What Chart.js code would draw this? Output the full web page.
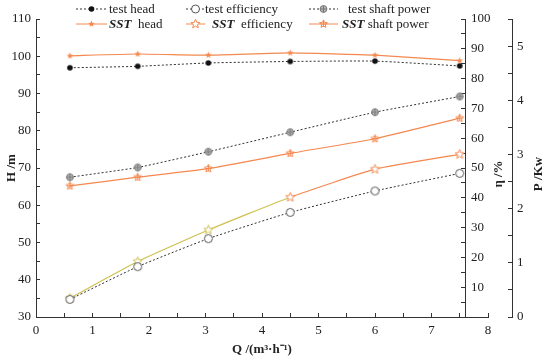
<!DOCTYPE html>
<html>
<head>
<meta charset="utf-8">
<script src="https://cdn.jsdelivr.net/npm/chart.js@4/dist/chart.umd.min.js"></script>
<style>
html, body { margin: 0; padding: 0; background: #fff; }
#wrap { position: relative; width: 550px; height: 361px; font-family: "Liberation Serif", serif; }
#pumpChart { position: absolute; left: 0; top: 0; }
.leg { position: absolute; height: 15px; font-size: 13px; line-height: 15px; white-space: nowrap; color: #222; display: flex; align-items: center; }
.leg canvas { display: block; }
.leg b { font-style: italic; }
</style>
</head>
<body>
<div id="wrap">
  <canvas id="pumpChart" width="550" height="361"></canvas>
  <div class="leg" style="left:76px;top:1px"><canvas id="s1" width="31" height="12"></canvas><span style="margin-left:2px">test head</span></div>
  <div class="leg" style="left:186px;top:1px"><canvas id="s2" width="19" height="12"></canvas><span>test efficiency</span></div>
  <div class="leg" style="left:309px;top:1px"><canvas id="s3" width="29" height="12"></canvas><span style="margin-left:10px">test shaft power</span></div>
  <div class="leg" style="left:76px;top:16px"><canvas id="s4" width="31" height="12"></canvas><span style="margin-left:2px"><b>SST</b>&nbsp; head</span></div>
  <div class="leg" style="left:186px;top:16px"><canvas id="s5" width="19" height="12"></canvas><span style="margin-left:7px"><b>SST</b>&nbsp; efficiency</span></div>
  <div class="leg" style="left:309px;top:16px"><canvas id="s6" width="29" height="12"></canvas><span style="margin-left:4px"><b>SST</b> shaft power</span></div>
</div>
<script>
// flow rate Q (m3/h) at the measured points
var flow = [0.6, 1.8, 3.05, 4.5, 6.0, 7.5];

// head H (m)
var testHead = [96.9, 97.3, 98.2, 98.6, 98.7, 97.4];
var sstHead = [100.1, 100.6, 100.3, 100.9, 100.3, 98.8];

// efficiency (%)
var testEff = [5.9, 16.9, 26.3, 35.1, 42.3, 48.2];
var sstEff = [6.3, 18.6, 29.2, 40.2, 49.6, 54.6];

// shaft power P (kW)
var testPower = [2.58, 2.76, 3.05, 3.41, 3.78, 4.07];
var sstPower = [2.42, 2.58, 2.74, 3.02, 3.29, 3.67];

// axes
var qRange = [0, 8];
var hRange = [30, 110];
var etaRange = [0, 100];
var powerRange = [0, 5.5];
var etaAxisAt = 7.6;

var orange = '#f4884f';
var olive = '#cfc050';
var dark = '#333';
var serif = '"Liberation Serif", serif';

function pts(ys) {
  return flow.map(function (q, i) { return { x: q, y: ys[i] }; });
}

function starPath(ctx, cx, cy, R, r) {
  ctx.beginPath();
  for (var i = 0; i < 10; i++) {
    var rad = i % 2 ? r : R;
    var a = -Math.PI / 2 + i * Math.PI / 5;
    ctx.lineTo(cx + rad * Math.cos(a), cy + rad * Math.sin(a));
  }
  ctx.closePath();
}

// marker painters, shared by the chart points and the legend samples
function headStar(ctx, cx, cy) {
  starPath(ctx, cx, cy, 3.4, 1.5);
  ctx.fillStyle = orange;
  ctx.fill();
}
function openStar(color) {
  return function (ctx, cx, cy) {
    starPath(ctx, cx, cy, 4.8, 2.1);
    ctx.fillStyle = '#fff';
    ctx.fill();
    ctx.strokeStyle = color;
    ctx.lineWidth = 1;
    ctx.stroke();
  };
}
function powerStar(ctx, cx, cy) {
  starPath(ctx, cx, cy, 4.2, 1.9);
  ctx.strokeStyle = orange;
  ctx.lineWidth = 1;
  ctx.stroke();
  ctx.beginPath();
  ctx.moveTo(cx - 3, cy); ctx.lineTo(cx + 3, cy);
  ctx.moveTo(cx, cy - 3); ctx.lineTo(cx, cy + 3);
  ctx.stroke();
}
function crossCircle(ctx, cx, cy) {
  ctx.beginPath();
  ctx.arc(cx, cy, 3.4, 0, Math.PI * 2);
  ctx.fillStyle = '#b8b8b8';
  ctx.fill();
  ctx.strokeStyle = '#777';
  ctx.lineWidth = 1;
  ctx.stroke();
  ctx.beginPath();
  ctx.moveTo(cx - 3.4, cy); ctx.lineTo(cx + 3.4, cy);
  ctx.moveTo(cx, cy - 3.4); ctx.lineTo(cx, cy + 3.4);
  ctx.stroke();
}
function dot(ctx, cx, cy) {
  ctx.beginPath();
  ctx.arc(cx, cy, 2.8, 0, Math.PI * 2);
  ctx.fillStyle = '#111';
  ctx.fill();
}
function ring(ctx, cx, cy) {
  ctx.beginPath();
  ctx.arc(cx, cy, 4, 0, Math.PI * 2);
  ctx.fillStyle = '#fff';
  ctx.fill();
  ctx.strokeStyle = '#555';
  ctx.lineWidth = 1;
  ctx.stroke();
}

function marker(size, paint) {
  var c = document.createElement('canvas');
  c.width = size; c.height = size;
  paint(c.getContext('2d'), size / 2, size / 2);
  return c;
}

var sstEffStyles = sstEff.map(function (v, i) {
  return marker(13, openStar(i < 3 ? olive : orange));
});

// legend samples
function sample(id, color, dashed, paint) {
  var c = document.getElementById(id);
  var ctx = c.getContext('2d');
  var y = c.height / 2;
  ctx.strokeStyle = color;
  ctx.lineWidth = 1;
  ctx.setLineDash(dashed ? [2, 2] : []);
  ctx.beginPath();
  ctx.moveTo(0, y); ctx.lineTo(c.width, y);
  ctx.stroke();
  ctx.setLineDash([]);
  paint(ctx, c.width / 2, y);
}
sample('s1', dark, true, dot);
sample('s2', dark, true, ring);
sample('s3', dark, true, crossCircle);
sample('s4', orange, false, headStar);
sample('s5', orange, false, openStar(orange));
sample('s6', orange, false, powerStar);

// put the efficiency axis inside the plot and the power axis off to the right
var placeAxes = {
  id: 'placeAxes',
  afterLayout: function (chart) {
    var x = chart.scales.x;
    var eta = chart.scales.yEta;
    var p = chart.scales.yP;
    eta.left = Math.round(x.getPixelForValue(etaAxisAt));
    eta.width = 42;
    eta.right = eta.left + 42;
    p.left = 512;
    p.width = 38;
    p.right = 550;
  },
  // right-hand axis titles read bottom to top, like the left one
  afterDraw: function (chart) {
    var c = chart.ctx;
    var eta = chart.scales.yEta;
    var p = chart.scales.yP;
    var mid = (chart.chartArea.top + chart.chartArea.bottom) / 2 + 6;
    [[eta.right - 8, 'η /%'], [p.right - 11, 'P /Kw']].forEach(function (t) {
      c.save();
      c.translate(t[0], mid);
      c.rotate(-Math.PI / 2);
      c.font = 'bold 13px ' + serif;
      c.fillStyle = '#222';
      c.textAlign = 'center';
      c.textBaseline = 'middle';
      c.fillText(t[1], 0, 0);
      c.restore();
    });
  }
};

var tickFont = { family: serif, size: 13 };
var titleFont = { family: serif, size: 13, weight: 'bold' };

var ctx = document.getElementById('pumpChart').getContext('2d');

var pumpChart = new Chart(ctx, {
  type: 'line',
  data: {
    datasets: [{
      label: 'test head',
      data: pts(testHead),
      yAxisID: 'yH',
      borderColor: dark,
      borderWidth: 1,
      borderDash: [2, 2],
      pointStyle: marker(8, dot),
      tension: 0.15
    }, {
      label: 'test efficiency',
      data: pts(testEff),
      yAxisID: 'yEta',
      borderColor: dark,
      borderWidth: 1,
      borderDash: [2, 2],
      pointStyle: marker(11, ring),
      tension: 0.15
    }, {
      label: 'test shaft power',
      data: pts(testPower),
      yAxisID: 'yP',
      borderColor: dark,
      borderWidth: 1,
      borderDash: [2, 2],
      pointStyle: marker(10, crossCircle),
      tension: 0.15
    }, {
      label: 'SST head',
      data: pts(sstHead),
      yAxisID: 'yH',
      borderColor: orange,
      borderWidth: 1.2,
      pointStyle: marker(9, headStar),
      tension: 0.15
    }, {
      label: 'SST efficiency',
      data: pts(sstEff),
      yAxisID: 'yEta',
      borderColor: orange,
      borderWidth: 1.2,
      segment: {
        borderColor: function (c) { return c.p0DataIndex < 3 ? olive : orange; }
      },
      pointStyle: sstEffStyles,
      tension: 0.15
    }, {
      label: 'SST shaft power',
      data: pts(sstPower),
      yAxisID: 'yP',
      borderColor: orange,
      borderWidth: 1.2,
      pointStyle: marker(11, powerStar),
      tension: 0.15
    }]
  },
  options: {
    responsive: false,
    animation: false,
    devicePixelRatio: 1,
    layout: { padding: { top: 19, left: 0, right: 0, bottom: 0 } },
    elements: { point: { radius: 4, hoverRadius: 4 } },
    plugins: {
      legend: { display: false },
      tooltip: { enabled: false }
    },
    scales: {
      x: {
        type: 'linear',
        position: 'bottom',
        min: qRange[0],
        max: qRange[1],
        afterFit: function (s) { s.height = 44; },
        ticks: {
          stepSize: 0.5,
          autoSkip: false,
          maxRotation: 0,
          padding: 10,
          color: '#222',
          font: tickFont,
          callback: function (v) { return Number.isInteger(v) ? v : ''; }
        },
        grid: { drawOnChartArea: false, tickLength: -4, color: dark },
        border: { color: dark, width: 1 },
        title: { display: true, text: 'Q /(m³·h⁻¹)', color: '#222', font: titleFont, padding: { top: 0, bottom: 4 } }
      },
      yH: {
        type: 'linear',
        position: 'left',
        min: hRange[0],
        max: hRange[1],
        afterFit: function (s) { s.width = 36; },
        ticks: {
          stepSize: 5,
          autoSkip: false,
          padding: 9,
          color: '#222',
          font: tickFont,
          callback: function (v) { return v % 10 === 0 ? v : ''; }
        },
        grid: { drawOnChartArea: false, tickLength: -4, color: dark },
        border: { color: dark, width: 1 },
        title: { display: true, text: 'H /m', color: '#222', font: titleFont, padding: { top: 4, bottom: 0 } }
      },
      yEta: {
        type: 'linear',
        position: 'right',
        min: etaRange[0],
        max: etaRange[1],
        afterFit: function (s) { s.width = 0; },
        ticks: {
          stepSize: 5,
          autoSkip: false,
          padding: 10,
          color: '#222',
          font: tickFont,
          callback: function (v) { return v % 10 === 0 && v > 0 ? v : ''; }
        },
        grid: { drawOnChartArea: false, tickLength: -4, color: dark },
        border: { color: dark, width: 1 },
        title: { display: false }
      },
      yP: {
        type: 'linear',
        position: 'right',
        min: powerRange[0],
        max: powerRange[1],
        afterFit: function (s) { s.width = 62; },
        ticks: {
          stepSize: 0.5,
          autoSkip: false,
          padding: 9,
          color: '#222',
          font: tickFont,
          callback: function (v) { return Number.isInteger(v) ? v : ''; }
        },
        grid: { drawOnChartArea: false, tickLength: -4, color: dark },
        border: { color: dark, width: 1 },
        title: { display: false }
      }
    }
  },
  plugins: [placeAxes]
});
</script>
</body>
</html>
